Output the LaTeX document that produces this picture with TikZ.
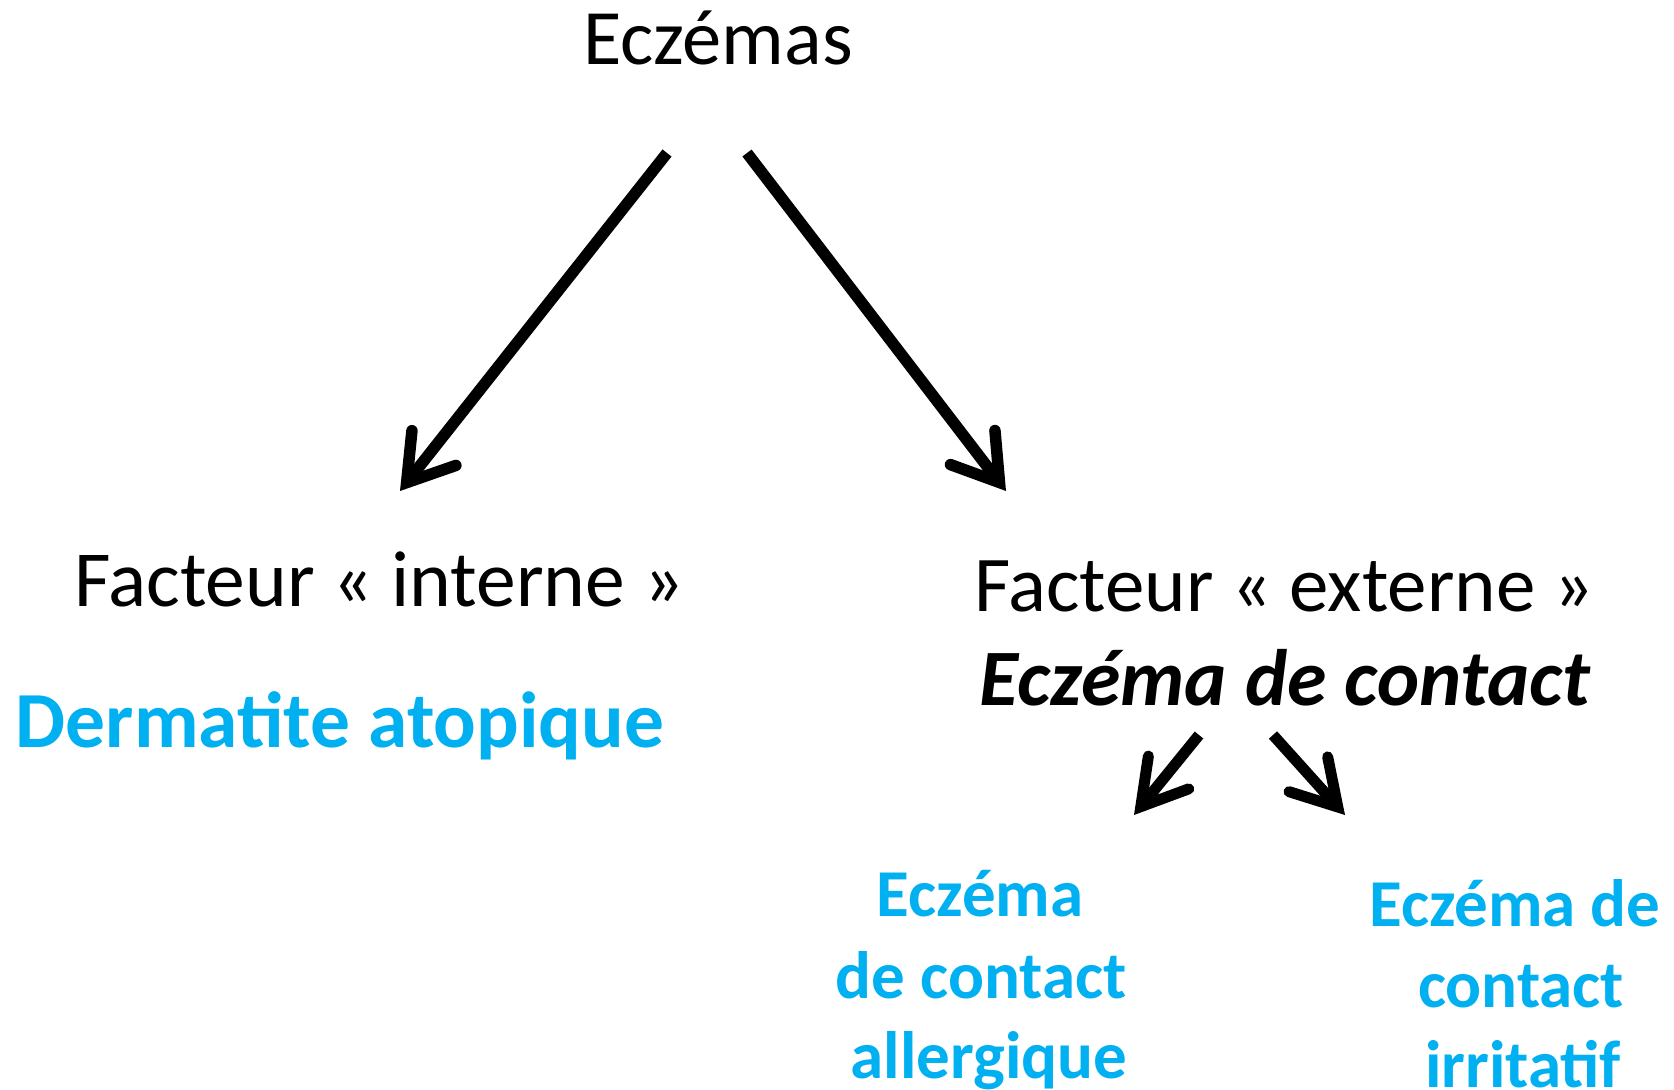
\documentclass[tikz,border=0pt]{standalone}
\usepackage{fontspec}
\setmainfont{Carlito}
\usetikzlibrary{arrows.meta}
\definecolor{msblue}{HTML}{00B0F0}
\begin{document}
\begin{tikzpicture}[x=1pt,y=-1pt,
  txt/.style={anchor=base, inner sep=0pt, outer sep=0pt},
  blk/.style={txt, font=\fontsize{79.5}{95}\selectfont},
  bld/.style={txt, text=msblue, font=\fontsize{79.5}{95}\selectfont\bfseries},
  sml/.style={txt, text=msblue, font=\fontsize{67}{80}\selectfont\bfseries},
  arr/.style={line width=11.5pt, line cap=butt,
    -{Straight Barb[length=44pt,width=56pt,line join=miter,line cap=round]}},
  sarr/.style={line width=11pt, line cap=butt,
    -{Straight Barb[length=44pt,width=52pt,line join=miter,line cap=round]}}]
\useasboundingbox (0,0) rectangle (1674,1090);
\fill[white] (0,0) rectangle (1674,1090);

\node[blk, font=\fontsize{78.5}{94}\selectfont] (ecz) at (718,64) {Eczémas};
\node[blk] (int) at (379,606) {Facteur «~interne~»};
\node[bld] (dat) at (340,747) {Dermatite atopique};
\node[blk, font=\fontsize{79}{95}\selectfont] (ext) at (1284,611) {Facteur «~externe~»};
\node[blk, font=\fontsize{80}{96}\selectfont\bfseries\itshape] (edc) at (1285,705) {Eczéma de contact};

\node[sml] (al1) at (980,916) {Eczéma};
\node[sml] (al2) at (981,998) {de contact};
\node[sml] (al3) at (989,1078) {allergique};

\node[sml] (ir1) at (1515,926) {Eczéma de};
\node[sml] (ir2) at (1521,1007) {contact};
\node[sml] (ir3) at (1523,1087) {irritatif};

\coordinate (s1) at (667,153);
\coordinate (e1) at (400,491);
\coordinate (s2) at (747,153);
\coordinate (e2) at (1006,491);
\coordinate (s3) at (1199,735);
\coordinate (e3) at (1134,815);
\coordinate (s4) at (1273,735);
\coordinate (e4) at (1345,815);

\draw[arr] (s1) -- (e1);
\draw[arr] (s2) -- (e2);
\draw[sarr] (s3) -- (e3);
\draw[sarr] (s4) -- (e4);
\end{tikzpicture}
\end{document}
